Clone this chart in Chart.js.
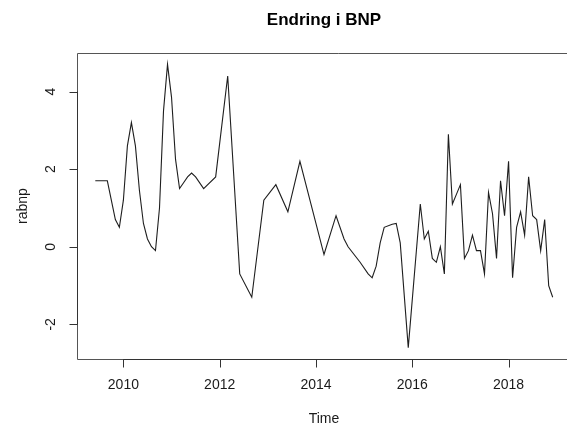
<!DOCTYPE html>
<html>
<head>
<meta charset="utf-8">
<title>Endring i BNP</title>
<script src="https://cdn.jsdelivr.net/npm/chart.js@4/dist/chart.umd.min.js"></script>
<style>
  html, body { margin: 0; padding: 0; background: #fff; overflow: hidden; width: 567px; height: 433px; }
  #wrap { width: 567px; height: 433px; overflow: hidden; position: relative; }
  #c { position: absolute; left: 0; top: 0; }
</style>
</head>
<body>
<div id="wrap"><canvas id="c" width="600" height="433"></canvas></div>
<script>
// Observation periods (year-month) and the series value at each one
const periods = [
  "2009-06","2009-09","2009-11","2009-12","2010-01","2010-02","2010-03","2010-04",
  "2010-05","2010-06","2010-07","2010-08","2010-09","2010-10","2010-11","2010-12",
  "2011-01","2011-02","2011-03","2011-04","2011-05","2011-06","2011-07","2011-09",
  "2011-12","2012-03","2012-06","2012-09","2012-12","2013-03","2013-06","2013-09",
  "2014-03","2014-06","2014-08","2014-09","2014-12","2015-02","2015-03","2015-04",
  "2015-05","2015-06","2015-08","2015-09","2015-10","2015-12","2016-03","2016-04",
  "2016-05","2016-06","2016-07","2016-08","2016-09","2016-10","2016-11","2016-12",
  "2017-01","2017-02","2017-03","2017-04","2017-05","2017-06","2017-07","2017-08",
  "2017-09","2017-10","2017-11","2017-12","2018-01","2018-02","2018-03","2018-04",
  "2018-05","2018-06","2018-07","2018-08","2018-09","2018-10","2018-11","2018-12"
];
const rabnp = [
  1.7, 1.7, 0.7, 0.5, 1.2, 2.6, 3.2, 2.6,
  1.45, 0.6, 0.2, 0.0, -0.1, 1.0, 3.5, 4.7,
  3.85, 2.25, 1.5, 1.65, 1.8, 1.9, 1.8, 1.5,
  1.8, 4.4, -0.7, -1.3, 1.2, 1.6, 0.9, 2.2,
  -0.2, 0.8, 0.2, 0.0, -0.4, -0.7, -0.8, -0.5,
  0.1, 0.5, 0.58, 0.6, 0.1, -2.6, 1.1, 0.2,
  0.4, -0.3, -0.4, 0.0, -0.7, 2.9, 1.1, 1.35,
  1.6, -0.3, -0.1, 0.3, -0.1, -0.1, -0.7, 1.4,
  0.85, -0.3, 1.7, 0.8, 2.2, -0.8, 0.5, 0.9,
  0.3, 1.8, 0.8, 0.7, -0.1, 0.7, -1.0, -1.3
];
// Axis tick labels
const xTicks = [2010, 2012, 2014, 2016, 2018];
const yTicks = [-2, 0, 2, 4];

const chartTitle = "Endring i BNP";
const xTitle = "Time";
const yTitle = "rabnp";

// Convert "YYYY-MM" into decimal time (January = whole year)
function toTime(p) {
  const [y, m] = p.split("-").map(Number);
  return y + (m - 1) / 12;
}
const points = periods.map((p, i) => ({ x: toTime(p), y: rabnp[i] }));

// Axis ranges padded by 4% on each side
function padded(vals) {
  const lo = Math.min(...vals), hi = Math.max(...vals);
  const d = (hi - lo) * 0.04;
  return [lo - d, hi + d];
}
const [xMin, xMax] = padded(points.map(p => p.x));
const [yMin, yMax] = padded(rabnp);

const FONT = '"Liberation Sans", Arial, Helvetica, sans-serif';

// Box, axes, ticks and titles in a classic plotting style
const framePlugin = {
  id: 'frame',
  afterDatasetsDraw(chart) {
    const ctx = chart.ctx;
    const a = chart.chartArea;
    const xs = chart.scales.x, ys = chart.scales.y;
    const tick = 8;
    ctx.save();

    // plot box: left, top and bottom sides (the right side falls outside the view)
    const L = Math.round(a.left) + 0.5;
    const T = Math.round(a.top) + 0.5;
    const B = Math.round(a.bottom) + 0.5;
    ctx.strokeStyle = '#555';
    ctx.lineWidth = 1;
    ctx.beginPath();
    ctx.moveTo(chart.width, T);
    ctx.lineTo(L, T);
    ctx.lineTo(L, B);
    ctx.lineTo(chart.width, B);
    ctx.stroke();

    ctx.strokeStyle = '#333';
    ctx.fillStyle = '#1a1a1a';
    ctx.font = '14px ' + FONT;

    // x axis
    ctx.beginPath();
    ctx.moveTo(xs.getPixelForValue(xTicks[0]), B);
    ctx.lineTo(xs.getPixelForValue(xTicks[xTicks.length - 1]), B);
    xTicks.forEach(t => {
      const px = Math.round(xs.getPixelForValue(t)) + 0.5;
      ctx.moveTo(px, B);
      ctx.lineTo(px, B + tick);
    });
    ctx.stroke();
    ctx.textAlign = 'center';
    ctx.textBaseline = 'middle';
    xTicks.forEach(t => {
      ctx.fillText(String(t), xs.getPixelForValue(t), a.bottom + 26);
    });

    // y axis
    ctx.beginPath();
    ctx.moveTo(L, ys.getPixelForValue(yTicks[0]));
    ctx.lineTo(L, ys.getPixelForValue(yTicks[yTicks.length - 1]));
    yTicks.forEach(t => {
      const py = Math.round(ys.getPixelForValue(t)) + 0.5;
      ctx.moveTo(L, py);
      ctx.lineTo(L - tick, py);
    });
    ctx.stroke();
    yTicks.forEach(t => {
      ctx.save();
      ctx.translate(a.left - 25.5, ys.getPixelForValue(t));
      ctx.rotate(-Math.PI / 2);
      ctx.fillText(String(t), 0, 0);
      ctx.restore();
    });

    // axis titles
    const cx = (a.left + a.right) / 2;
    const cy = (a.top + a.bottom) / 2;
    ctx.fillText(xTitle, cx, a.bottom + 60);
    ctx.save();
    ctx.translate(a.left - 54, cy);
    ctx.rotate(-Math.PI / 2);
    ctx.fillText(yTitle, 0, 0);
    ctx.restore();

    // main title
    ctx.font = 'bold 17px ' + FONT;
    ctx.fillStyle = '#000';
    ctx.fillText(chartTitle, cx, 20);

    ctx.restore();
  }
};

new Chart(document.getElementById('c'), {
  type: 'line',
  data: {
    datasets: [{
      data: points,
      borderColor: '#1e1e1e',
      borderWidth: 1.1,
      pointRadius: 0,
      tension: 0,
      fill: false
    }]
  },
  options: {
    responsive: false,
    animation: false,
    devicePixelRatio: 1,
    layout: { padding: { left: 77, top: 53, right: 29, bottom: 74 } },
    scales: {
      x: { type: 'linear', min: xMin, max: xMax, display: false },
      y: { type: 'linear', min: yMin, max: yMax, display: false }
    },
    plugins: {
      legend: { display: false },
      tooltip: { enabled: false },
      title: { display: false }
    }
  },
  plugins: [framePlugin]
});
</script>
</body>
</html>
